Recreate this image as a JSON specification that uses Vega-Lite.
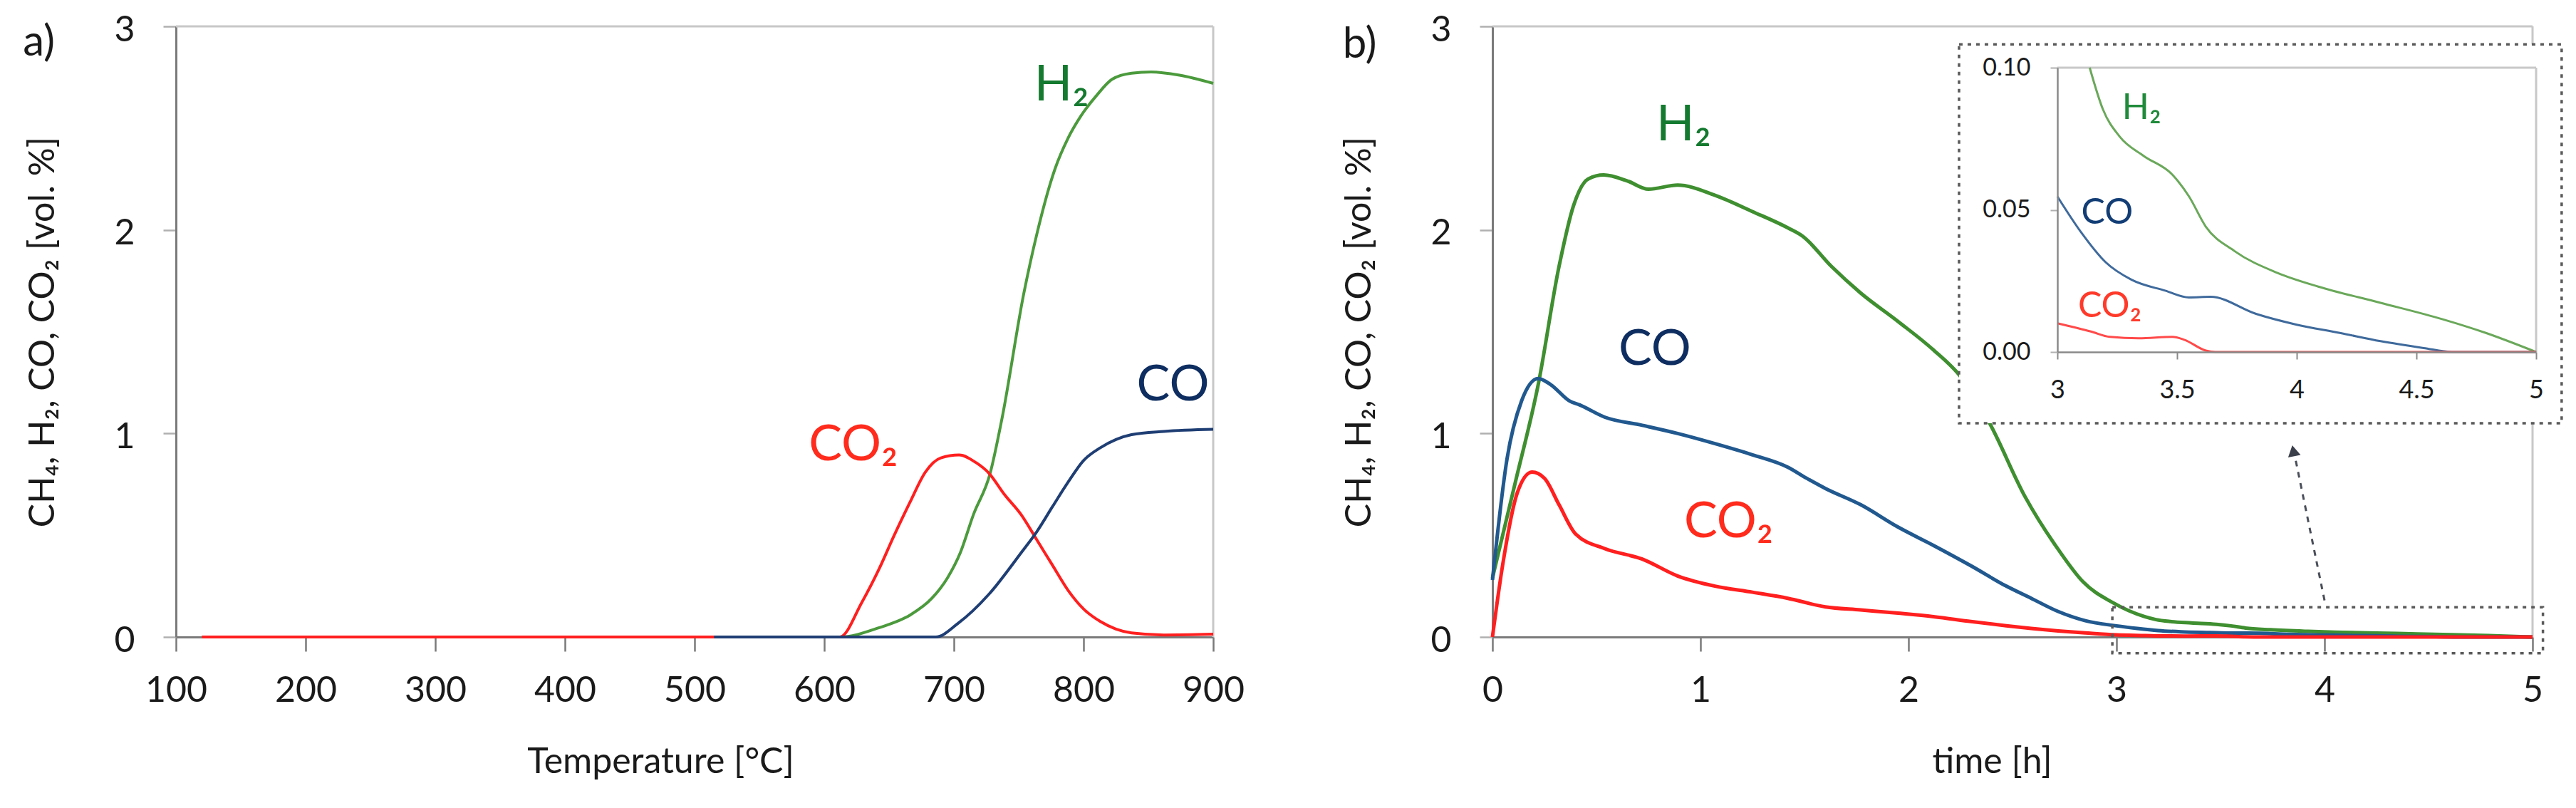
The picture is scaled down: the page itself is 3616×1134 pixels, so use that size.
{
  "$schema": "https://vega.github.io/schema/vega-lite/v6.json",
  "padding": {"left": 32, "top": 17, "right": 0, "bottom": 0},
  "bounds": "flush",
  "spacing": 392,
  "datasets": {
    "tpr": [
      {"T": 120, "s": "H2", "v": 0}, {"T": 612, "s": "H2", "v": 0}, {"T": 642, "s": "H2", "v": 0.045},
      {"T": 666, "s": "H2", "v": 0.107}, {"T": 683, "s": "H2", "v": 0.19}, {"T": 695, "s": "H2", "v": 0.29},
      {"T": 705, "s": "H2", "v": 0.415}, {"T": 715, "s": "H2", "v": 0.6}, {"T": 728, "s": "H2", "v": 0.805},
      {"T": 737, "s": "H2", "v": 1.07}, {"T": 754, "s": "H2", "v": 1.69}, {"T": 764, "s": "H2", "v": 1.98},
      {"T": 778, "s": "H2", "v": 2.3}, {"T": 788, "s": "H2", "v": 2.45}, {"T": 798, "s": "H2", "v": 2.56},
      {"T": 810, "s": "H2", "v": 2.66}, {"T": 822, "s": "H2", "v": 2.74}, {"T": 837, "s": "H2", "v": 2.77},
      {"T": 852, "s": "H2", "v": 2.776}, {"T": 874, "s": "H2", "v": 2.76}, {"T": 900, "s": "H2", "v": 2.72},
      {"T": 120, "s": "CO2", "v": 0}, {"T": 612, "s": "CO2", "v": 0}, {"T": 629, "s": "CO2", "v": 0.17},
      {"T": 642, "s": "CO2", "v": 0.33}, {"T": 654, "s": "CO2", "v": 0.5}, {"T": 666, "s": "CO2", "v": 0.66},
      {"T": 678, "s": "CO2", "v": 0.81}, {"T": 690, "s": "CO2", "v": 0.88}, {"T": 704, "s": "CO2", "v": 0.894},
      {"T": 717, "s": "CO2", "v": 0.857}, {"T": 727, "s": "CO2", "v": 0.805}, {"T": 739, "s": "CO2", "v": 0.7},
      {"T": 752, "s": "CO2", "v": 0.6}, {"T": 764, "s": "CO2", "v": 0.477}, {"T": 776, "s": "CO2", "v": 0.353},
      {"T": 788, "s": "CO2", "v": 0.23}, {"T": 800, "s": "CO2", "v": 0.138}, {"T": 813, "s": "CO2", "v": 0.076},
      {"T": 825, "s": "CO2", "v": 0.039}, {"T": 837, "s": "CO2", "v": 0.02}, {"T": 862, "s": "CO2", "v": 0.01},
      {"T": 900, "s": "CO2", "v": 0.014},
      {"T": 515, "s": "CO", "v": 0}, {"T": 686, "s": "CO", "v": 0}, {"T": 703, "s": "CO", "v": 0.066},
      {"T": 727, "s": "CO", "v": 0.21}, {"T": 752, "s": "CO", "v": 0.415}, {"T": 764, "s": "CO", "v": 0.518},
      {"T": 776, "s": "CO", "v": 0.64}, {"T": 788, "s": "CO", "v": 0.76}, {"T": 800, "s": "CO", "v": 0.867},
      {"T": 813, "s": "CO", "v": 0.93}, {"T": 825, "s": "CO", "v": 0.97}, {"T": 837, "s": "CO", "v": 0.994},
      {"T": 862, "s": "CO", "v": 1.01}, {"T": 900, "s": "CO", "v": 1.02}
    ],
    "iso": [
      {"t": 0, "s": "H2", "v": 0.29}, {"t": 0.11, "s": "H2", "v": 0.76}, {"t": 0.22, "s": "H2", "v": 1.24},
      {"t": 0.32, "s": "H2", "v": 1.82}, {"t": 0.39, "s": "H2", "v": 2.12}, {"t": 0.46, "s": "H2", "v": 2.25},
      {"t": 0.535, "s": "H2", "v": 2.27}, {"t": 0.65, "s": "H2", "v": 2.24}, {"t": 0.75, "s": "H2", "v": 2.2},
      {"t": 0.89, "s": "H2", "v": 2.22}, {"t": 1.07, "s": "H2", "v": 2.17}, {"t": 1.25, "s": "H2", "v": 2.09},
      {"t": 1.42, "s": "H2", "v": 2.01}, {"t": 1.49, "s": "H2", "v": 1.97}, {"t": 1.63, "s": "H2", "v": 1.82},
      {"t": 1.77, "s": "H2", "v": 1.69}, {"t": 1.95, "s": "H2", "v": 1.55}, {"t": 2.12, "s": "H2", "v": 1.41},
      {"t": 2.25, "s": "H2", "v": 1.28}, {"t": 2.39, "s": "H2", "v": 1.05}, {"t": 2.56, "s": "H2", "v": 0.69},
      {"t": 2.72, "s": "H2", "v": 0.43}, {"t": 2.84, "s": "H2", "v": 0.27}, {"t": 2.98, "s": "H2", "v": 0.17},
      {"t": 3.135, "s": "H2", "v": 0.1}, {"t": 3.19, "s": "H2", "v": 0.0854}, {"t": 3.26, "s": "H2", "v": 0.0758},
      {"t": 3.36, "s": "H2", "v": 0.069}, {"t": 3.48, "s": "H2", "v": 0.0624}, {"t": 3.55, "s": "H2", "v": 0.0547},
      {"t": 3.62, "s": "H2", "v": 0.0441}, {"t": 3.74, "s": "H2", "v": 0.0355}, {"t": 3.92, "s": "H2", "v": 0.0278},
      {"t": 4.09, "s": "H2", "v": 0.023}, {"t": 4.35, "s": "H2", "v": 0.0173}, {"t": 4.61, "s": "H2", "v": 0.0115},
      {"t": 4.79, "s": "H2", "v": 0.0067}, {"t": 5, "s": "H2", "v": 0},
      {"t": 0, "s": "CO", "v": 0.28}, {"t": 0.07, "s": "CO", "v": 0.875}, {"t": 0.14, "s": "CO", "v": 1.16},
      {"t": 0.22, "s": "CO", "v": 1.27}, {"t": 0.28, "s": "CO", "v": 1.24}, {"t": 0.37, "s": "CO", "v": 1.16},
      {"t": 0.42, "s": "CO", "v": 1.14}, {"t": 0.54, "s": "CO", "v": 1.08}, {"t": 0.72, "s": "CO", "v": 1.04},
      {"t": 0.89, "s": "CO", "v": 1}, {"t": 1.07, "s": "CO", "v": 0.95}, {"t": 1.25, "s": "CO", "v": 0.895},
      {"t": 1.42, "s": "CO", "v": 0.834}, {"t": 1.51, "s": "CO", "v": 0.78}, {"t": 1.6, "s": "CO", "v": 0.73},
      {"t": 1.77, "s": "CO", "v": 0.65}, {"t": 1.95, "s": "CO", "v": 0.54}, {"t": 2.12, "s": "CO", "v": 0.45},
      {"t": 2.3, "s": "CO", "v": 0.35}, {"t": 2.47, "s": "CO", "v": 0.25}, {"t": 2.59, "s": "CO", "v": 0.19},
      {"t": 2.72, "s": "CO", "v": 0.125}, {"t": 2.85, "s": "CO", "v": 0.08}, {"t": 3, "s": "CO", "v": 0.0547},
      {"t": 3.1, "s": "CO", "v": 0.042}, {"t": 3.2, "s": "CO", "v": 0.0317}, {"t": 3.31, "s": "CO", "v": 0.0254},
      {"t": 3.45, "s": "CO", "v": 0.0216}, {"t": 3.55, "s": "CO", "v": 0.0192}, {"t": 3.64, "s": "CO", "v": 0.0194},
      {"t": 3.83, "s": "CO", "v": 0.0134}, {"t": 4, "s": "CO", "v": 0.0096}, {"t": 4.18, "s": "CO", "v": 0.0067},
      {"t": 4.35, "s": "CO", "v": 0.0038}, {"t": 4.53, "s": "CO", "v": 0.0014}, {"t": 4.65, "s": "CO", "v": 0},
      {"t": 5, "s": "CO", "v": 0},
      {"t": 0, "s": "CO2", "v": 0}, {"t": 0.05, "s": "CO2", "v": 0.36}, {"t": 0.12, "s": "CO2", "v": 0.71},
      {"t": 0.19, "s": "CO2", "v": 0.81}, {"t": 0.25, "s": "CO2", "v": 0.78}, {"t": 0.32, "s": "CO2", "v": 0.65},
      {"t": 0.4, "s": "CO2", "v": 0.506}, {"t": 0.54, "s": "CO2", "v": 0.434}, {"t": 0.72, "s": "CO2", "v": 0.383},
      {"t": 0.89, "s": "CO2", "v": 0.3}, {"t": 1.07, "s": "CO2", "v": 0.25}, {"t": 1.25, "s": "CO2", "v": 0.22},
      {"t": 1.42, "s": "CO2", "v": 0.19}, {"t": 1.6, "s": "CO2", "v": 0.148}, {"t": 1.77, "s": "CO2", "v": 0.133},
      {"t": 1.95, "s": "CO2", "v": 0.117}, {"t": 2.12, "s": "CO2", "v": 0.1}, {"t": 2.3, "s": "CO2", "v": 0.076},
      {"t": 2.47, "s": "CO2", "v": 0.055}, {"t": 2.59, "s": "CO2", "v": 0.042}, {"t": 2.72, "s": "CO2", "v": 0.03},
      {"t": 2.85, "s": "CO2", "v": 0.02}, {"t": 3, "s": "CO2", "v": 0.0101}, {"t": 3.14, "s": "CO2", "v": 0.0072},
      {"t": 3.22, "s": "CO2", "v": 0.0053}, {"t": 3.34, "s": "CO2", "v": 0.0048}, {"t": 3.48, "s": "CO2", "v": 0.0053},
      {"t": 3.53, "s": "CO2", "v": 0.0043}, {"t": 3.62, "s": "CO2", "v": 0.0005}, {"t": 3.66, "s": "CO2", "v": 0},
      {"t": 5, "s": "CO2", "v": 0}
    ],
    "labA": [
      {"T": 762, "v": 2.71, "s": "H2", "label": "H₂"},
      {"T": 841, "v": 1.235, "s": "CO", "label": "CO"},
      {"T": 588, "v": 0.94, "s": "CO2", "label": "CO₂"}
    ],
    "labB": [
      {"t": 0.788, "v": 2.513, "s": "H2", "label": "H₂"},
      {"t": 0.606, "v": 1.41, "s": "CO", "label": "CO"},
      {"t": 0.921, "v": 0.564, "s": "CO2", "label": "CO₂"}
    ],
    "labI": [
      {"t": 3.27, "v": 0.0857, "s": "H2", "label": "H₂"},
      {"t": 3.1, "v": 0.0489, "s": "CO", "label": "CO"},
      {"t": 3.086, "v": 0.016, "s": "CO2", "label": "CO₂"}
    ]
  },
  "resolve": {"scale": {"x": "independent", "y": "independent", "stroke": "independent", "fill": "independent"}},
  "hconcat": [
    {
      "width": 1456,
      "height": 857,
      "layer": [
        {
          "data": {"values": [{}]},
          "mark": {"type": "rule", "color": "#c8c8c8", "strokeWidth": 3},
          "encoding": {
            "x": {"datum": 100, "scale": {"domain": [100, 900], "nice": false, "zero": false}},
            "x2": {"datum": 900},
            "y": {"datum": 3, "scale": {"domain": [0, 3], "nice": false}}
          }
        },
        {
          "data": {"values": [{}]},
          "mark": {"type": "rule", "color": "#c8c8c8", "strokeWidth": 3},
          "encoding": {
            "x": {"datum": 900, "scale": {"domain": [100, 900], "nice": false, "zero": false}},
            "y": {"datum": 0, "scale": {"domain": [0, 3], "nice": false}},
            "y2": {"datum": 3}
          }
        },
        {
          "data": {"name": "tpr"},
          "mark": {"type": "line", "interpolate": "monotone", "strokeWidth": 4},
          "encoding": {
            "x": {
              "field": "T", "type": "quantitative",
              "scale": {"domain": [100, 900], "nice": false, "zero": false},
              "axis": {
                "title": "Temperature [°C]", "values": [100, 200, 300, 400, 500, 600, 700, 800, 900], "format": "d",
                "domainColor": "#7a7a7a", "domainWidth": 3, "tickColor": "#7a7a7a", "tickWidth": 2.5,
                "tickSize": 20, "labelFontSize": 50, "labelPadding": 30, "titleFontSize": 50, "titlePadding": 50,
                "titleX": 680
              }
            },
            "y": {
              "field": "v", "type": "quantitative",
              "scale": {"domain": [0, 3], "nice": false},
              "axis": {
                "title": "CH₄, H₂, CO, CO₂ [vol. %]", "values": [0, 1, 2, 3], "format": "d",
                "domainColor": "#7a7a7a", "domainWidth": 3, "tickColor": "#b0b0b0", "tickWidth": 2.5,
                "tickSize": 18, "labelFontSize": 50, "labelPadding": 40, "labelOffset": 5,
                "titleFontSize": 50, "titlePadding": 74
              }
            },
            "stroke": {
              "field": "s", "type": "nominal",
              "scale": {"domain": ["H2", "CO2", "CO"], "range": ["#4b9a3c", "#ff1f1f", "#1f3e74"]},
              "legend": null
            }
          }
        },
        {
          "data": {"name": "labA"},
          "mark": {"type": "text", "align": "left", "baseline": "middle", "fontSize": 70},
          "encoding": {
            "x": {"field": "T", "type": "quantitative", "scale": {"domain": [100, 900], "nice": false, "zero": false}},
            "y": {"field": "v", "type": "quantitative", "scale": {"domain": [0, 3], "nice": false}},
            "text": {"field": "label"},
            "fill": {
              "field": "s", "type": "nominal",
              "scale": {"domain": ["H2", "CO2", "CO"], "range": ["#147a2f", "#ff2b1c", "#0e2d60"]},
              "legend": null
            }
          }
        },
        {
          "data": {"values": [{}]},
          "mark": {"type": "text", "text": "a)", "align": "left", "baseline": "middle", "fontSize": 60, "color": "#1a1a1a"},
          "encoding": {
            "x": {"datum": -18, "scale": {"domain": [100, 900], "nice": false, "zero": false}},
            "y": {"datum": 2.92, "scale": {"domain": [0, 3], "nice": false}}
          }
        }
      ]
    },
    {
      "width": 1460,
      "height": 857,
      "resolve": {"scale": {"x": "independent", "y": "independent", "stroke": "independent", "fill": "independent"}},
      "layer": [
        {
          "layer": [
            {
              "data": {"values": [{}]},
              "mark": {"type": "rule", "color": "#c8c8c8", "strokeWidth": 3},
              "encoding": {
                "x": {"datum": 0, "scale": {"domain": [0, 5], "nice": false}},
                "x2": {"datum": 5},
                "y": {"datum": 3, "scale": {"domain": [0, 3], "nice": false}}
              }
            },
            {
              "data": {"values": [{}]},
              "mark": {"type": "rule", "color": "#c8c8c8", "strokeWidth": 3},
              "encoding": {
                "x": {"datum": 5, "scale": {"domain": [0, 5], "nice": false}},
                "y": {"datum": 0, "scale": {"domain": [0, 3], "nice": false}},
                "y2": {"datum": 3}
              }
            },
            {
              "data": {"name": "iso"},
              "mark": {"type": "line", "interpolate": "monotone", "strokeWidth": 5},
              "encoding": {
                "x": {
                  "field": "t", "type": "quantitative",
                  "scale": {"domain": [0, 5], "nice": false},
                  "axis": {
                    "title": "time [h]", "values": [0, 1, 2, 3, 4, 5], "format": "d", "orient": "bottom",
                    "domainColor": "#7a7a7a", "domainWidth": 3, "tickColor": "#7a7a7a", "tickWidth": 2.5,
                    "tickSize": 20, "labelFontSize": 50, "labelPadding": 30, "titleFontSize": 50, "titlePadding": 50,
                    "titleX": 701
                  }
                },
                "y": {
                  "field": "v", "type": "quantitative",
                  "scale": {"domain": [0, 3], "nice": false},
                  "axis": {
                    "title": "CH₄, H₂, CO, CO₂ [vol. %]", "values": [0, 1, 2, 3], "format": "d", "orient": "left",
                    "domainColor": "#7a7a7a", "domainWidth": 3, "tickColor": "#b0b0b0", "tickWidth": 2.5,
                    "tickSize": 18, "labelFontSize": 50, "labelPadding": 40, "labelOffset": 5,
                    "titleFontSize": 50, "titlePadding": 74
                  }
                },
                "stroke": {
                  "field": "s", "type": "nominal",
                  "scale": {"domain": ["H2", "CO", "CO2"], "range": ["#3f8f30", "#21598f", "#ff1f1f"]},
                  "legend": null
                }
              }
            },
            {
              "data": {"name": "labB"},
              "mark": {"type": "text", "align": "left", "baseline": "middle", "fontSize": 70},
              "encoding": {
                "x": {"field": "t", "type": "quantitative", "scale": {"domain": [0, 5], "nice": false}},
                "y": {"field": "v", "type": "quantitative", "scale": {"domain": [0, 3], "nice": false}},
                "text": {"field": "label"},
                "fill": {
                  "field": "s", "type": "nominal",
                  "scale": {"domain": ["H2", "CO", "CO2"], "range": ["#147a2f", "#0e2d60", "#ff2b1c"]},
                  "legend": null
                }
              }
            },
            {
              "data": {"values": [{}]},
              "mark": {"type": "text", "text": "b)", "align": "left", "baseline": "middle", "fontSize": 60, "color": "#1a1a1a"},
              "encoding": {
                "x": {"datum": -0.72, "scale": {"domain": [0, 5], "nice": false}},
                "y": {"datum": 2.91, "scale": {"domain": [0, 3], "nice": false}}
              }
            },
            {
              "data": {"values": [{}]},
              "mark": {"type": "rect", "fill": null, "stroke": "#5a5a5a", "strokeWidth": 3.5, "strokeDash": [5, 7]},
              "encoding": {
                "x": {"datum": 2.98, "scale": {"domain": [0, 5], "nice": false}},
                "x2": {"datum": 5.05},
                "y": {"datum": 0.146, "scale": {"domain": [0, 3], "nice": false}},
                "y2": {"datum": -0.08}
              }
            },
            {
              "data": {"values": [{}]},
              "mark": {"type": "rule", "stroke": "#4a4f5a", "strokeWidth": 3, "strokeDash": [8, 8]},
              "encoding": {
                "x": {"datum": 4.0, "scale": {"domain": [0, 5], "nice": false}},
                "x2": {"datum": 3.855},
                "y": {"datum": 0.18, "scale": {"domain": [0, 3], "nice": false}},
                "y2": {"datum": 0.9}
              }
            },
            {
              "data": {"values": [{}]},
              "mark": {"type": "point", "shape": "triangle-up", "filled": true, "color": "#3a3f4a", "size": 320, "angle": -11, "opacity": 1},
              "encoding": {
                "x": {"datum": 3.85, "scale": {"domain": [0, 5], "nice": false}},
                "y": {"datum": 0.915, "scale": {"domain": [0, 3], "nice": false}}
              }
            },
            {
              "data": {"values": [{}]},
              "mark": {"type": "rect", "fill": "white", "stroke": "#5a5a5a", "strokeWidth": 3.5, "strokeDash": [5, 7]},
              "encoding": {
                "x": {"datum": 2.243, "scale": {"domain": [0, 5], "nice": false}},
                "x2": {"datum": 5.14},
                "y": {"datum": 2.912, "scale": {"domain": [0, 3], "nice": false}},
                "y2": {"datum": 1.05}
              }
            }
          ]
        },
        {
          "layer": [
            {
              "data": {"values": [{}]},
              "mark": {"type": "rule", "color": "#c8c8c8", "strokeWidth": 3},
              "encoding": {
                "x": {"datum": 3, "scale": {"domain": [3, 5], "nice": false, "zero": false, "range": [793, 1465]}},
                "x2": {"datum": 5},
                "y": {"datum": 0.1, "scale": {"domain": [0, 0.1], "nice": false, "range": [457, 58]}}
              }
            },
            {
              "data": {"values": [{}]},
              "mark": {"type": "rule", "color": "#c8c8c8", "strokeWidth": 3},
              "encoding": {
                "x": {"datum": 5, "scale": {"domain": [3, 5], "nice": false, "zero": false, "range": [793, 1465]}},
                "y": {"datum": 0, "scale": {"domain": [0, 0.1], "nice": false, "range": [457, 58]}},
                "y2": {"datum": 0.1}
              }
            },
            {
              "data": {"name": "iso"},
              "transform": [{"filter": "datum.t >= 3 && datum.v <= 0.1"}],
              "mark": {"type": "line", "interpolate": "monotone", "strokeWidth": 3},
              "encoding": {
                "x": {
                  "field": "t", "type": "quantitative",
                  "scale": {"domain": [3, 5], "nice": false, "zero": false, "range": [793, 1465]},
                  "axis": {
                    "title": null, "orient": "bottom", "offset": -400, "zindex": 1,
                    "values": [3, 3.5, 4, 4.5, 5], "format": "~g",
                    "domainColor": "#8a8a8a", "domainWidth": 2.5, "tickColor": "#8a8a8a", "tickWidth": 2,
                    "tickSize": 10, "labelFontSize": 36, "labelPadding": 26
                  }
                },
                "y": {
                  "field": "v", "type": "quantitative",
                  "scale": {"domain": [0, 0.1], "nice": false, "range": [457, 58]},
                  "axis": {
                    "title": null, "orient": "left", "offset": -793, "zindex": 1,
                    "values": [0, 0.05, 0.1], "format": ".2f",
                    "domainColor": "#8a8a8a", "domainWidth": 2.5, "tickColor": "#b0b0b0", "tickWidth": 2,
                    "tickSize": 10, "labelFontSize": 34, "labelPadding": 28
                  }
                },
                "stroke": {
                  "field": "s", "type": "nominal",
                  "scale": {"domain": ["H2", "CO", "CO2"], "range": ["#6aa85a", "#3f6a9c", "#ff4a4a"]},
                  "legend": null
                }
              }
            },
            {
              "data": {"name": "labI"},
              "mark": {"type": "text", "align": "left", "baseline": "middle", "fontSize": 50},
              "encoding": {
                "x": {"field": "t", "type": "quantitative", "scale": {"domain": [3, 5], "nice": false, "zero": false, "range": [793, 1465]}},
                "y": {"field": "v", "type": "quantitative", "scale": {"domain": [0, 0.1], "nice": false, "range": [457, 58]}},
                "text": {"field": "label"},
                "fill": {
                  "field": "s", "type": "nominal",
                  "scale": {"domain": ["H2", "CO", "CO2"], "range": ["#1f8a3a", "#123d75", "#ff3a2a"]},
                  "legend": null
                }
              }
            }
          ]
        }
      ]
    }
  ],
  "config": {
    "view": {"stroke": null},
    "font": "Lato",
    "text": {"font": "Lato"},
    "axis": {"grid": false, "labelFlush": false, "labelOverlap": false, "labelFont": "Lato", "titleFont": "Lato", "titleFontWeight": "normal", "labelColor": "#1a1a1a", "titleColor": "#1a1a1a"}
  }
}
